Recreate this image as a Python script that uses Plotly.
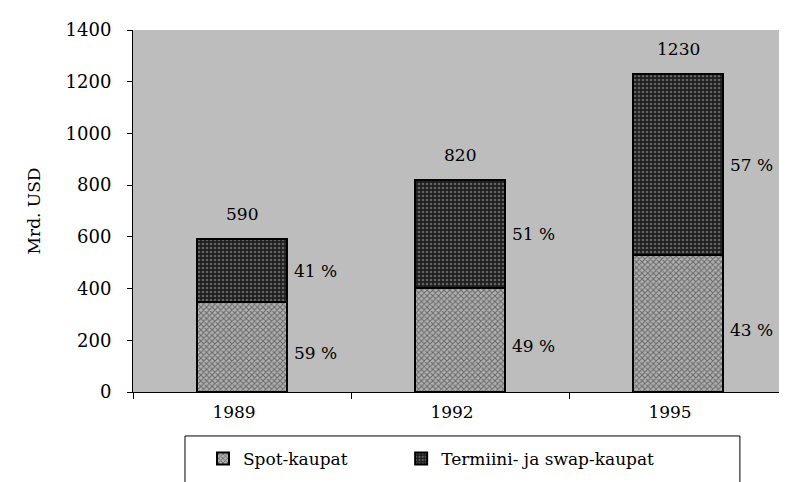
import plotly.graph_objects as go

years = ["1989", "1992", "1995"]
spot = [348, 402, 529]
forward = [242, 418, 701]
totals = [590, 820, 1230]
spot_pct = ["59 %", "49 %", "43 %"]
fwd_pct = ["41 %", "51 %", "57 %"]
y_ticks = [0, 200, 400, 600, 800, 1000, 1200, 1400]

FONT = "DejaVu Serif"

fig = go.Figure()
fig.add_trace(go.Bar(
    x=years, y=spot, name="Spot-kaupat", legend="legend", showlegend=True,
    marker=dict(color="#a0a0a0",
                line=dict(color="black", width=2),
                pattern=dict(shape="x", fgcolor="#202020", bgcolor="#b0b0b0", size=4, solidity=0.45)),
))
fig.add_trace(go.Bar(
    x=years, y=forward, name="Termiini- ja swap-kaupat", legend="legend2", showlegend=True,
    marker=dict(color="#404040",
                line=dict(color="black", width=2),
                pattern=dict(shape=".", fgcolor="#a8a8a8", bgcolor="#1e1e1e", size=4, solidity=0.35)),
))

ann = []
for i, yr in enumerate(years):
    ann.append(dict(x=i, y=totals[i], text=str(totals[i]), showarrow=False,
                    yanchor="bottom", yshift=13,
                    font=dict(family=FONT, size=17, color="black")))
    ann.append(dict(x=i, y=spot[i] / 2, text=spot_pct[i], showarrow=False,
                    xanchor="left", xshift=50, yshift=-6,
                    font=dict(family=FONT, size=17, color="black")))
    ann.append(dict(x=i, y=spot[i] + forward[i] / 2, text=fwd_pct[i], showarrow=False,
                    xanchor="left", xshift=50, yshift=0,
                    font=dict(family=FONT, size=17, color="black")))

legend_style = dict(orientation="h", xanchor="left", y=-0.135, yanchor="top",
                    borderwidth=0, bgcolor="rgba(0,0,0,0)", visible=True,
                    font=dict(family=FONT, size=17, color="black"), itemwidth=30)

fig.update_layout(
    showlegend=True,
    barmode="stack",
    bargap=0.59,
    width=779, height=474,
    margin=dict(l=125, r=0, t=22, b=90, autoexpand=False),
    paper_bgcolor="white",
    plot_bgcolor="#bdbdbd",
    font=dict(family=FONT, size=17, color="black"),
    annotations=ann,
    shapes=[dict(type="rect", xref="paper", yref="paper",
                 x0=0.0795, x1=0.928, y0=-0.40, y1=-0.1215,
                 line=dict(color="black", width=1), fillcolor="rgba(0,0,0,0)", layer="below")],
    legend=dict(x=0.107, **legend_style),
    legend2=dict(x=0.41, **legend_style),
    xaxis=dict(type="category", showgrid=False, showline=True, linecolor="black", linewidth=1,
               ticks="outside", tickson="boundaries", ticklen=6, tickcolor="black",
               ticklabelshift=-8, ticklabelstandoff=5,
               tickfont=dict(family=FONT, size=17), automargin=False),
    yaxis=dict(range=[0, 1400], tickvals=y_ticks, showgrid=False, showline=True,
               linecolor="black", linewidth=1, ticks="outside", ticklen=5,
               tickcolor="black", zeroline=False, automargin=False,
               ticklabelstandoff=12,
               title=dict(text="Mrd. USD", font=dict(family=FONT, size=17), standoff=20),
               tickfont=dict(family=FONT, size=18)),
)

fig.write_html("out.html")
